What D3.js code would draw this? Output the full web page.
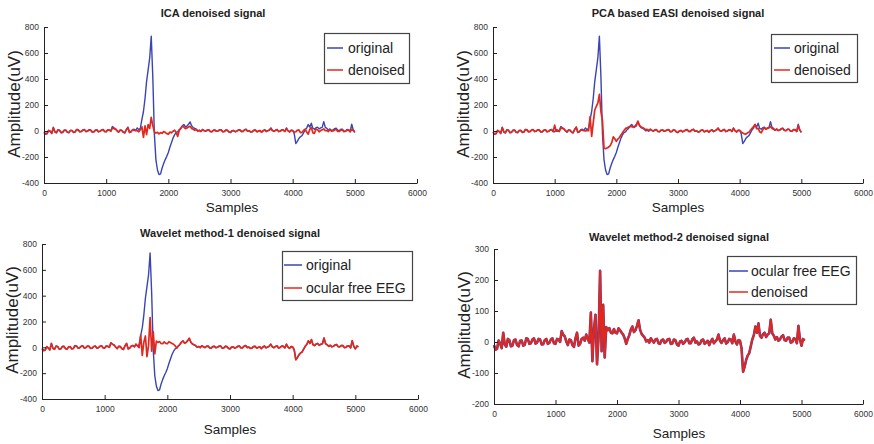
<!DOCTYPE html>
<html>
<head>
<meta charset="utf-8">
<script src="https://cdn.jsdelivr.net/npm/d3@7"></script>
<style>
  body { margin: 0; background: #fff; }
  svg { display: block; font-family: "Liberation Sans", Arial, sans-serif; }
</style>
</head>
<body>
<svg width="874" height="444"></svg>
<script>
// sample index of every point: 0, 25, 50 ... 5050 (20 points per row below)
const samples = d3.range(0, 5051, 25);

// raw EEG with the ocular artifact (uV)
const original = [
  -10, -25, -22, 5, -5, -20, 30, -8, -15, 10, 6, -14, -12, 6, 8, -10, -14, 4, 5, -12,
  -9, 12, 10, -6, -4, 8, 12, -5, -2, 10, 8, -8, -7, 6, 10, -6, -3, 8, 12, -4,
  -6, 10, 8, 0, 35, 24, 18, 2, -10, 8, 6, -10, -16, 12, 30, -12, -6, 10, 14, 4,
  24, 10, 22, 90, 150, 250, 380, 470, 560, 730, 420, -20, -220, -300, -335, -330, -285, -250, -220, -195,
  -165, -125, -90, -55, -30, -12, -6, 10, 22, 40, 50, 32, 38, 52, 70, 40, 26, 20, 14, 2,
  6, -2, 12, 4, -2, 8, 10, -4, -6, 6, 8, -3, 1, 9, 10, -6, -5, 8, 6, -8,
  -12, 2, 4, -6, -1, 8, 10, -4, -4, 9, 14, -2, 2, -8, -6, 6, 8, -6, -1, 4,
  -10, 2, 10, -4, 2, 8, 24, 4, -3, 6, 12, -5, -1, 10, 8, -4, 24, 2, -8, 6,
  4, -20, -96, -80, -58, -44, -36, -14, 8, 22, 50, 30, 60, 20, 14, 26, 30, 16, 24, 28,
  72, 28, 20, 8, 16, 4, 8, 18, 22, 6, 4, 14, 14, -2, 0, 12, 10, -4, 52, 8,
  -12, 10, 4
];

// ocular free EEG (uV)
const ocularFree = [
  -10, -25, -22, 5, -5, -20, 30, -8, -15, 10, 6, -14, -12, 6, 8, -10, -14, 4, 5, -12,
  -9, 12, 10, -6, -4, 8, 12, -5, -2, 10, 8, -8, -7, 6, 10, -6, -3, 8, 12, -4,
  -6, 10, 8, 0, 35, 24, 18, 2, -10, 8, 6, -10, -16, 12, 30, -12, -6, 10, 14, 4,
  24, 10, -2, 95, -62, 40, 88, -72, 15, 230, -30, 120, -50, 48, 38, 45, 30, 28, 42, 30,
  28, 44, 38, 30, 24, 12, -6, 10, 22, 40, 50, 32, 38, 52, 70, 40, 26, 20, 14, 2,
  6, -2, 12, 4, -2, 8, 10, -4, -6, 6, 8, -3, 1, 9, 10, -6, -5, 8, 6, -8,
  -12, 2, 4, -6, -1, 8, 10, -4, -4, 9, 14, -2, 2, -8, -6, 6, 8, -6, -1, 4,
  -10, 2, 10, -4, 2, 8, 24, 4, -3, 6, 12, -5, -1, 10, 8, -4, 24, 2, -8, 6,
  4, -20, -96, -80, -58, -44, -36, -14, 8, 22, 50, 30, 60, 20, 14, 26, 30, 16, 24, 28,
  72, 28, 20, 8, 16, 4, 8, 18, 22, 6, 4, 14, 14, -2, 0, 12, 10, -4, 52, 8,
  -12, 10, 4
];

const icaDenoised = [
  -10, -22, -16, 4, 0, -18, 24, -6, -12, 8, 4, -12, -9, 5, 5, -8, -11, 4, 4, -10,
  -6, 10, 8, -5, -4, 6, 10, -4, -1, 8, 6, -6, -6, 5, 8, -5, -2, 6, 10, -3,
  -5, 8, 6, 0, 24, 18, 14, 2, -8, 6, 4, -8, -12, 10, 24, -10, -5, 8, 6, 2,
  2, -6, 12, 32, -50, 40, -28, 50, 20, 105, 42, -6, -16, -10, -22, -12, -18, -4, -10, -20,
  -24, -8, -14, -2, 6, -10, -42, 4, 20, 36, 30, 18, 24, 30, 36, 20, 14, 6, 10, -2,
  4, -4, 10, 2, -2, 6, 8, -4, -5, 5, 6, -2, 0, 8, 8, -5, -4, 6, 5, -6,
  -10, 2, 3, -5, -1, 6, 8, -3, -3, 7, 12, -2, 2, -7, -5, 5, 6, -5, -1, 3,
  -8, 2, 8, -3, 2, 6, 18, 3, -3, 5, 10, -4, -1, 8, 6, -3, 18, 2, -6, 5,
  4, -8, -6, 6, 8, -12, -10, 4, 14, -8, -24, 12, 28, -14, -18, 16, 10, -6, 4, 10,
  16, 2, 4, -4, 10, -2, 0, 8, 12, -4, -4, 6, 8, -6, -2, 6, 6, -6, 12, 4,
  -6, null, null
];

const pcaEasiDenoised = [
  -10, -24, -18, 4, -3, -18, 26, -6, -14, 8, 5, -12, -8, 5, 6, -9, -10, 4, 5, -10,
  -7, 10, 9, -5, -5, 7, 10, -4, 0, 9, 7, -6, -5, 6, 9, -5, -3, 7, 10, -4,
  45, -2, 0, -4, 26, 20, 15, 2, -6, 7, 5, -8, -10, 12, 30, -10, -5, 8, 6, 3,
  0, 5, 2, 110, -42, 60, 160, 190, 215, 282, 150, 80, -130, -136, -130, -124, -112, -90, -45, -60,
  -80, -62, -50, -30, -14, 4, 20, 24, 30, 34, 36, 28, 32, 40, 76, 44, 34, 26, 20, 10,
  12, 4, 14, 6, 0, 8, 10, -4, -5, 6, 8, -2, 2, 9, 10, -5, -4, 8, 6, -8,
  -10, 2, 4, -6, 0, 8, 10, -3, -3, 8, 12, -2, 2, -7, -5, 6, 8, -6, -1, 4,
  -9, 2, 9, -4, 2, 8, 20, 4, -2, 6, 12, -4, 0, 9, 8, -4, 20, 2, -6, 5,
  5, -6, -16, -22, -24, -14, -10, 6, 20, 34, 50, 18, 20, -6, -14, 10, 26, 14, 20, 24,
  36, 20, 14, 6, 14, 4, 6, 16, 20, 4, 2, 12, 12, -2, -1, 10, 8, -4, 40, 6,
  -8, null, null
];

// wavelet method-2 output lies on top of the ocular free EEG
const wavelet2Denoised = ocularFree;

const xTicks = [0, 1000, 2000, 3000, 4000, 5000, 6000];
const yTicksWide = [-400, -200, 0, 200, 400, 600, 800];
const yTicksNarrow = [-200, -100, 0, 100, 200, 300];

const titles = ['ICA denoised signal', 'PCA based EASI denoised signal',
  'Wavelet method-1 denoised signal', 'Wavelet method-2 denoised signal'];
const legendA = ['original', 'denoised'];
const legendB = ['original', 'ocular free EEG'];
const legendC = ['ocular free EEG', 'denoised'];

const BLUE = '#3a45b3';
const RED = '#e2281e';

const svg = d3.select('svg');

const panels = [
  { title: titles[0], left: 44, right: 417, top: 27, bottom: 183, yDomain: [-400, 800], yTicks: yTicksWide, last: 5000,
    series: [[original, BLUE, 1.4], [icaDenoised, RED, 1.7]], legend: legendA,
    box: [324, 33, 85, 50], lineX: [327, 343], textX: 348, rowY: [48, 70],
    ylabel: [14, 104], xlabel: [232, 212], titleAt: [213, 17] },
  { title: titles[1], left: 493, right: 863, top: 27, bottom: 183, yDomain: [-400, 800], yTicks: yTicksWide, last: 5000,
    series: [[original, BLUE, 1.4], [pcaEasiDenoised, RED, 1.7]], legend: legendA,
    box: [771, 34, 86, 48], lineX: [774, 790], textX: 794, rowY: [48, 70],
    ylabel: [463, 104], xlabel: [678, 212], titleAt: [678, 17] },
  { title: titles[2], left: 42, right: 418, top: 244, bottom: 399, yDomain: [-400, 800], yTicks: yTicksWide, last: 5050,
    series: [[original, BLUE, 1.4], [ocularFree, RED, 1.7]], legend: legendB,
    box: [282, 251, 130, 49], lineX: [284, 302], textX: 306, rowY: [265, 288],
    ylabel: [12, 320], xlabel: [230, 434], titleAt: [230, 237] },
  { title: titles[3], left: 494, right: 863, top: 249, bottom: 404, yDomain: [-200, 300], yTicks: yTicksNarrow, last: 5050,
    series: [[ocularFree, BLUE, 2.6], [wavelet2Denoised, RED, 2.0]], legend: legendC,
    box: [727, 256, 129, 48], lineX: [729, 748], textX: 751, rowY: [271, 292],
    ylabel: [464, 325], xlabel: [679, 438], titleAt: [679, 241] }
];

panels.forEach(p => {
  const x = d3.scaleLinear().domain([0, 6000]).range([p.left, p.right]);
  const y = d3.scaleLinear().domain(p.yDomain).range([p.bottom, p.top]);
  const g = svg.append('g');

  // signals
  p.series.forEach(([vals, color, w]) => {
    const pts = samples.map((s, i) => [s, vals[i]]).filter(d => d[0] <= p.last && d[1] != null);
    g.append('path')
      .datum(pts)
      .attr('fill', 'none')
      .attr('stroke', color)
      .attr('stroke-width', w)
      .attr('stroke-linejoin', 'round')
      .attr('d', d3.line().x(d => x(d[0])).y(d => y(d[1])));
  });

  // axes (ticks point inward, no box)
  const xa = g.append('g')
    .attr('transform', `translate(0,${p.bottom})`)
    .call(d3.axisBottom(x).tickValues(xTicks).tickSizeInner(-4).tickSizeOuter(0).tickPadding(7).tickFormat(d3.format('d')));
  const ya = g.append('g')
    .attr('transform', `translate(${p.left},0)`)
    .call(d3.axisLeft(y).tickValues(p.yTicks).tickSizeInner(-4).tickSizeOuter(0).tickPadding(5).tickFormat(d => d < 0 ? '-' + Math.abs(d) : d));
  [xa, ya].forEach(a => {
    a.attr('color', '#222').attr('font-size', 8.5).attr('font-family', null);
    a.selectAll('text').attr('fill', '#333');
  });

  // title and axis labels
  g.append('text')
    .attr('x', p.titleAt[0]).attr('y', p.titleAt[1])
    .attr('text-anchor', 'middle').attr('font-weight', 'bold').attr('font-size', 11)
    .attr('fill', '#222').text(p.title);
  g.append('text')
    .attr('x', p.xlabel[0]).attr('y', p.xlabel[1])
    .attr('text-anchor', 'middle').attr('font-size', 13.5).attr('fill', '#222')
    .text('Samples');
  g.append('text')
    .attr('transform', `translate(${p.ylabel[0] + 6},${p.ylabel[1]}) rotate(-90)`)
    .attr('text-anchor', 'middle').attr('font-size', 17).attr('fill', '#222')
    .text('Amplitude(uV)');

  // legend
  const [bx, by, bw, bh] = p.box;
  g.append('rect')
    .attr('x', bx + 0.5).attr('y', by + 0.5).attr('width', bw).attr('height', bh)
    .attr('fill', '#fff').attr('stroke', '#444').attr('stroke-width', 1.2);
  p.legend.forEach((label, i) => {
    const ly = p.rowY[i];
    g.append('line')
      .attr('x1', p.lineX[0]).attr('x2', p.lineX[1]).attr('y1', ly).attr('y2', ly)
      .attr('stroke', p.series[i][1]).attr('stroke-width', 1.5);
    g.append('text')
      .attr('x', p.textX).attr('y', ly + 5)
      .attr('font-size', 14).attr('fill', '#222')
      .text(label);
  });
});
</script>
</body>
</html>
